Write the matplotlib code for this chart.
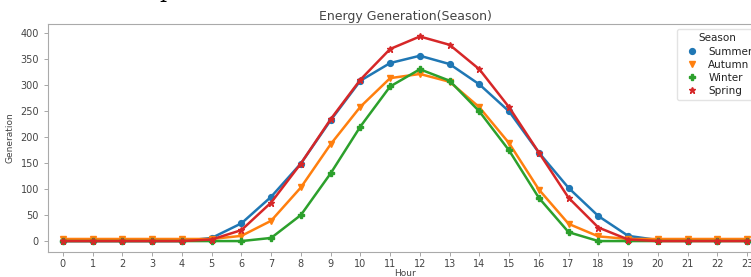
import matplotlib
matplotlib.use("Agg")
import matplotlib.pyplot as plt
from matplotlib.lines import Line2D

hours = list(range(24))
hour_labels = [str(h) for h in hours]
summer = [0, 0, 0, 0, 0, 6, 34, 85, 149, 232, 308, 342, 356, 340, 301, 249, 170, 102, 48, 10, 2, 1, 1, 1]
autumn = [4, 4, 4, 4, 4, 4, 10, 39, 103, 186, 258, 313, 321, 306, 257, 188, 99, 33, 9, 4, 4, 4, 4, 4]
winter = [0, 0, 0, 0, 0, 0, 0, 6, 50, 130, 220, 297, 330, 308, 249, 174, 83, 17, 0, 0, 0, 0, 0, 0]
spring = [0, 0, 0, 0, 0, 3, 21, 74, 149, 234, 310, 369, 393, 377, 330, 257, 170, 83, 26, 3, 0, 0, 0, 0]
series_names = ["Summer", "Autumn", "Winter", "Spring"]

colors = ["#1f77b4", "#ff7f0e", "#2ca02c", "#d62728"]
markers = ["o", "v", "P", "*"]
msizes = [4.2, 4.5, 4.8, 5.0]

W, H = 751, 277
fig = plt.figure(figsize=(W / 100, H / 100), dpi=100)
left, right, top, bottom = 48, 762, 24, 252
ax = fig.add_axes([left / W, 1 - bottom / H, (right - left) / W, (bottom - top) / H])

handles = []
for name, vals, c, m, ms in zip(series_names, [summer, autumn, winter, spring], colors, markers, msizes):
    ax.plot(hours, vals, color=c, marker=m, markersize=ms, linewidth=1.8)
    handles.append(Line2D([], [], color=c, marker=m, markersize=ms, linestyle="none", label=name))

ax.set_xlim(-0.5, 23.5)
ax.set_ylim(-21, 417)
ax.set_xticks(hours)
ax.set_xticklabels(hour_labels)
ax.set_yticks([0, 50, 100, 150, 200, 250, 300, 350, 400])

tc = "#444444"
ax.tick_params(labelsize=7, colors="#999999", labelcolor=tc, length=3, width=0.6)
ax.tick_params(axis="x", pad=2)
for s in ax.spines.values():
    s.set_color("#aaaaaa")
    s.set_linewidth(0.8)

ax.set_title("Energy Generation(Season)", fontsize=9, color=tc, pad=3)
ax.set_xlabel("Hour", fontsize=6.5, color=tc, labelpad=0)
ax.set_ylabel("Generation", fontsize=6.5, color=tc, labelpad=4)

leg = ax.legend(handles=handles, title="Season", loc="upper right", fontsize=7.5, title_fontsize=7.5,
                frameon=True, borderaxespad=0.5, handletextpad=0.6, handlelength=2.0,
                labelspacing=0.3)
leg.get_frame().set_edgecolor("#dddddd")
for t in leg.get_texts():
    t.set_color("#222222")
leg.get_title().set_color("#222222")

fig.text(167 / W, 1 + 3 / H, "p", fontsize=16, family="serif", color="black", ha="center", va="baseline")

fig.savefig("out.png", dpi=100)
